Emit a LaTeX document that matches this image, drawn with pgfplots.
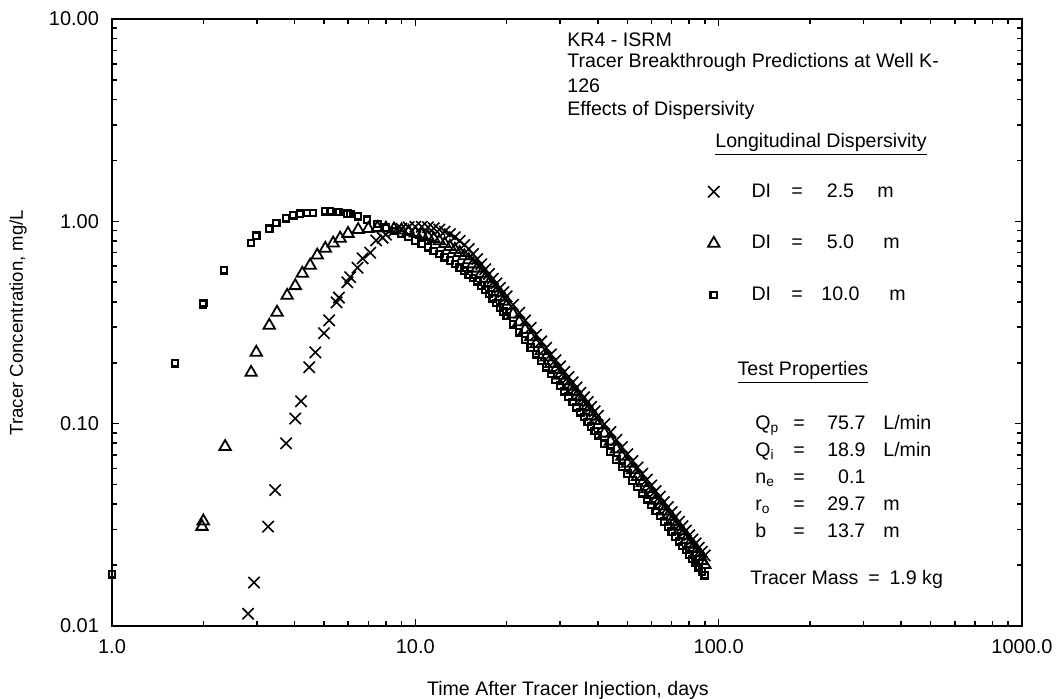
\documentclass[border=0pt]{standalone}
\usepackage{fontspec}
\setmainfont{Liberation Sans}
\usepackage{pgfplots}
\pgfplotsset{compat=1.18}
\usepackage{pgfplotstable}

% Dl = 2.5 m
\pgfplotstableread{
t c
2.81 0.0115
2.94 0.0164
3.27 0.031
3.45 0.047
3.75 0.080
4.02 0.106
4.20 0.129
4.47 0.19
4.68 0.225
5.0 0.28
5.2 0.324
5.5 0.398
5.6 0.42
5.97 0.50
6.1 0.53
6.45 0.59
6.7 0.656
7.1 0.70
7.43 0.805
7.8 0.83
8.0 0.86
8.5 0.895
9.0 0.92
9.5 0.935
10 0.94
10.5 0.94
11 0.935
11.5 0.925
12 0.91
12.5 0.89
13 0.865
13.5 0.835
14 0.80
14.5 0.765
15 0.73
15.5 0.69
16 0.651
16.5 0.614
17 0.580
17.5 0.549
18 0.521
18.5 0.494
19 0.469
19.5 0.447
20 0.426
21 0.387
22 0.3535
23 0.324
24 0.298
25 0.275
26 0.255
27 0.237
28 0.220
29 0.206
30 0.192
31 0.1805
32 0.170
33 0.160
34 0.151
35 0.142
36 0.135
37 0.128
38 0.121
39 0.115
40 0.1095
42 0.0995
44 0.0909
46 0.0832
48 0.0766
50 0.0707
52 0.0655
54 0.0608
56 0.0566
58 0.0529
60 0.0495
62 0.0464
64 0.0436
66 0.0410
68 0.0387
70 0.0366
72 0.0346
74 0.0328
76 0.0311
78 0.0296
80 0.0281
82 0.0268
84 0.0256
86 0.0244
88 0.0233
90 0.0223
}\dlshort

% Dl = 5.0 m
\pgfplotstableread{
t c
1.98 0.031
2.0 0.033
2.36 0.077
2.875 0.179
2.99 0.225
3.30 0.306
3.5 0.355
3.78 0.43
4.02 0.48
4.24 0.553
4.5 0.606
4.75 0.68
5.05 0.735
5.36 0.78
5.65 0.824
6.0 0.87
6.48 0.91
7.0 0.92
7.5 0.93
8 0.925
8.5 0.915
9 0.905
9.5 0.89
10 0.875
10.5 0.86
11 0.84
11.5 0.82
12 0.80
12.5 0.775
13 0.75
13.5 0.725
14 0.70
14.5 0.675
15 0.645
15.5 0.615
16 0.586
16.5 0.553
17 0.522
17.5 0.494
18 0.469
18.5 0.445
19 0.422
19.5 0.402
20 0.383
21 0.348
22 0.318
23 0.2915
24 0.268
25 0.2475
26 0.229
27 0.213
28 0.198
29 0.185
30 0.173
31 0.1625
32 0.153
33 0.144
34 0.136
35 0.128
36 0.1215
37 0.115
38 0.109
39 0.1035
40 0.0986
42 0.0896
44 0.0818
46 0.0749
48 0.0689
50 0.0636
52 0.059
54 0.0547
56 0.0509
58 0.0476
60 0.0446
62 0.0418
64 0.0392
66 0.0369
68 0.0348
70 0.0329
72 0.0311
74 0.0295
76 0.028
78 0.0266
80 0.0253
82 0.0241
84 0.023
86 0.022
88 0.021
90 0.0201
}\dlmid

% Dl = 10.0 m
\pgfplotstableread{
t c
1.0 0.018
1.615 0.199
1.997 0.389
2.0 0.395
2.34 0.573
2.875 0.78
2.99 0.85
3.30 0.92
3.48 0.98
3.75 1.035
3.96 1.07
4.17 1.09
4.4 1.10
4.6 1.10
5.04 1.12
5.24 1.12
5.53 1.11
5.6 1.11
5.97 1.09
6.1 1.085
6.48 1.06
6.93 1.02
7.5 0.97
8 0.93
8.5 0.895
9 0.865
9.5 0.835
10 0.805
10.5 0.775
11 0.745
11.5 0.715
12 0.69
12.5 0.665
13 0.64
13.5 0.615
14 0.59
14.5 0.57
15 0.545
15.5 0.525
16 0.505
16.5 0.482
17 0.46
17.5 0.438
18 0.417
18.5 0.395
19 0.375
19.5 0.358
20 0.341
21 0.310
22 0.283
23 0.259
24 0.238
25 0.220
26 0.204
27 0.190
28 0.176
29 0.1645
30 0.154
31 0.1444
32 0.136
33 0.128
34 0.1205
35 0.1138
36 0.1077
37 0.1021
38 0.0968
39 0.0921
40 0.0876
42 0.0796
44 0.0727
46 0.0666
48 0.0613
50 0.0566
52 0.0524
54 0.0486
56 0.0453
58 0.0423
60 0.0396
62 0.0371
64 0.0349
66 0.0328
68 0.031
70 0.0293
72 0.0277
74 0.0262
76 0.0249
78 0.0237
80 0.0225
82 0.0214
84 0.0205
86 0.0195
88 0.0186
90 0.0178
}\dllong

\begin{document}
\begin{tikzpicture}
\begin{axis}[
  at={(0,0)}, anchor=south west,
  scale only axis, width=455pt, height=303.5pt,
  xmode=log, ymode=log,
  xmin=1, xmax=1000, ymin=0.01, ymax=10,
  xtick={1,10,100,1000}, xticklabels={1.0,10.0,100.0,1000.0},
  ytick={0.01,0.1,1,10}, yticklabels={0.01,0.10,1.00,10.00},
  tick align=inside, major tick length=3.5pt, minor tick length=2.5pt,
  axis line style={line width=1pt},
  tick style={black, line width=0.8pt},
  ticklabel style={font=\fontsize{10}{12}\selectfont},
  xticklabel style={yshift=-3pt},
  yticklabel style={xshift=-3pt},
  xlabel={Time After Tracer Injection, days},
  ylabel={Tracer Concentration, mg/L},
  xlabel style={font=\fontsize{9.8}{12}\selectfont, at={(axis description cs:0.501,-0.1054)}, anchor=center},
  ylabel style={font=\fontsize{9.3}{12}\selectfont, at={(axis description cs:-0.1033,0.5)}, anchor=center},
  clip=false,
  legend cell align=left,
  legend style={draw=none, fill=none, at={(axis description cs:0.648,0.743)}, anchor=north west,
    row sep=13.5pt, font=\fontsize{9.8}{11}\selectfont},
]
\addplot[only marks, mark=x, mark size=4pt, line width=0.8pt, black] table[x=t, y=c] {\dlshort};
\addlegendentry{\hspace{14pt}\makebox[20pt][l]{DI}\makebox[14pt][l]{=}\makebox[21pt][c]{2.5}\hspace{8pt}m}
\addplot[only marks, mark=triangle, mark size=3.3pt, line width=0.9pt, black] table[x=t, y=c] {\dlmid};
\addlegendentry{\hspace{14pt}\makebox[20pt][l]{DI}\makebox[14pt][l]{=}\makebox[21pt][c]{5.0}\hspace{11pt}m}
\addplot[only marks, mark=square, mark size=1.6pt, line width=1.1pt, black] table[x=t, y=c] {\dllong};
\addlegendentry{\hspace{14pt}\makebox[20pt][l]{DI}\makebox[14pt][l]{=}\makebox[21pt][c]{10.0}\hspace{14pt}m}

\begin{scope}[every node/.style={font=\fontsize{9.8}{12}\selectfont, anchor=west, inner sep=0pt}]
\node at (axis description cs:0.500,0.9654) {KR4 - ISRM};
\node at (axis description cs:0.500,0.9292) {Tracer Breakthrough Predictions at Well K-};
\node at (axis description cs:0.500,0.8896) {126};
\node at (axis description cs:0.500,0.8501) {Effects of Dispersivity};
\node at (axis description cs:0.6626,0.794) {\underline{Longitudinal Dispersivity}};
\node at (axis description cs:0.687,0.418) {\underline{Test Properties}};
\node[anchor=north west, align=left, font=\fontsize{9.8}{13.5}\selectfont] at (axis description cs:0.7066,0.348) {%
\makebox[19pt][l]{Q\textsubscript{p}}\makebox[16pt][l]{=}\makebox[20pt][r]{75.7}\hspace{9pt}L/min\\
\makebox[19pt][l]{Q\textsubscript{i}}\makebox[16pt][l]{=}\makebox[20pt][r]{18.9}\hspace{9pt}L/min\\
\makebox[19pt][l]{n\textsubscript{e}}\makebox[16pt][l]{=}\makebox[20pt][r]{0.1}\\
\makebox[19pt][l]{r\textsubscript{o}}\makebox[16pt][l]{=}\makebox[20pt][r]{29.7}\hspace{9pt}m\\
\makebox[19pt][l]{b}\makebox[16pt][l]{=}\makebox[20pt][r]{13.7}\hspace{9pt}m};
\node at (axis description cs:0.701,0.0774) {Tracer Mass\enspace=\enspace1.9 kg};
\end{scope}
\end{axis}
\pgfresetboundingbox
\path (-56pt,-36pt) rectangle (474.5pt,313pt);
\end{tikzpicture}
\end{document}
